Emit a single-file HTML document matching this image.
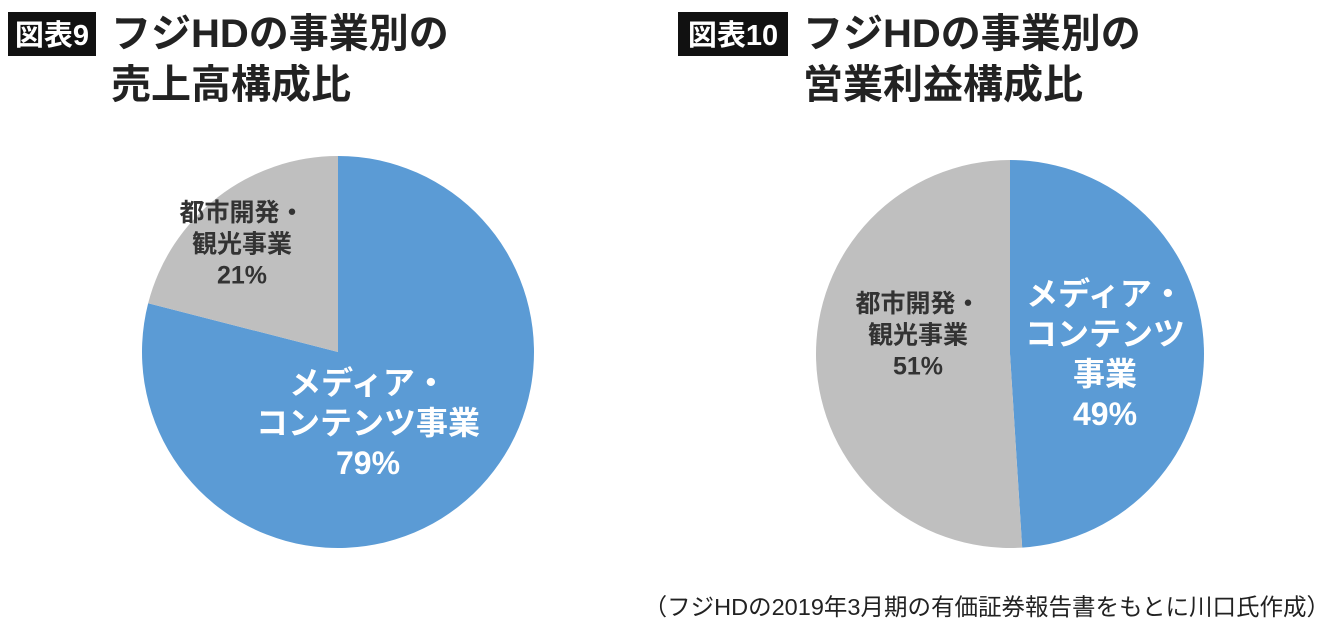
<!DOCTYPE html>
<html><head><meta charset="utf-8"><style>
body{margin:0;width:1340px;height:630px;background:#fff;overflow:hidden;font-family:"Liberation Sans","Noto Sans CJK JP",sans-serif}
svg{position:absolute;left:0;top:0}
</style></head><body>
<svg width="1340" height="630">
<g>
<rect x="8" y="12" width="88" height="44" fill="#111"/>
<text x="52" y="45" fill="#fff" font-size="29" font-weight="bold" text-anchor="middle" font-family="Liberation Sans,Noto Sans CJK JP,sans-serif">図表9</text>
<text x="111" y="47" font-size="40" font-weight="bold" fill="#222" font-family="Liberation Sans,Noto Sans CJK JP,sans-serif">フジHDの事業別の</text>
<text x="111" y="98" font-size="40" font-weight="bold" fill="#222" font-family="Liberation Sans,Noto Sans CJK JP,sans-serif">売上高構成比</text>
</g>
<g>
<rect x="678" y="12" width="110" height="44" fill="#111"/>
<text x="733" y="45" fill="#fff" font-size="29" font-weight="bold" text-anchor="middle" font-family="Liberation Sans,Noto Sans CJK JP,sans-serif">図表10</text>
<text x="803" y="47" font-size="40" font-weight="bold" fill="#222" font-family="Liberation Sans,Noto Sans CJK JP,sans-serif">フジHDの事業別の</text>
<text x="803" y="98" font-size="40" font-weight="bold" fill="#222" font-family="Liberation Sans,Noto Sans CJK JP,sans-serif">営業利益構成比</text>
</g>
<g id="pies"></g>
<text x="1330" y="615" font-size="23.5" fill="#222" text-anchor="end" font-family="Liberation Sans,Noto Sans CJK JP,sans-serif">（フジHDの2019年3月期の有価証券報告書をもとに川口氏作成）</text>
</svg>
<script>
const salesLabels=[["メディア・","コンテンツ事業"],["都市開発・","観光事業"]];
const salesValues=[79,21];
const profitLabels=[["メディア・","コンテンツ","事業"],["都市開発・","観光事業"]];
const profitValues=[49,51];
const colors=["#5b9bd5","#bfbfbf"];
const textColors=["#fff","#333"];
const NS="http://www.w3.org/2000/svg";
const g=document.getElementById('pies');
function pt(cx,cy,r,frac){const a=frac*2*Math.PI;return[cx+r*Math.sin(a),cy-r*Math.cos(a)];}
function drawPie(id,cx,cy,r,vals,labels,labelPos){
  const total=vals.reduce((a,b)=>a+b,0);let acc=0;
  vals.forEach((v,i)=>{
    const f0=acc/total,f1=(acc+v)/total;acc+=v;
    const [x0,y0]=pt(cx,cy,r,f0),[x1,y1]=pt(cx,cy,r,f1);
    const p=document.createElementNS(NS,'path');
    p.setAttribute('d',`M${cx},${cy}L${x0},${y0}A${r},${r} 0 ${(f1-f0)>0.5?1:0} 1 ${x1},${y1}Z`);
    p.setAttribute('fill',colors[i]);
    
    
    g.appendChild(p);
    const [lx,ly,fs]=labelPos[i];
    const lines=labels[i].concat([v+'%']);
    const t=document.createElementNS(NS,'text');
    t.setAttribute('text-anchor','middle');t.setAttribute('font-size',fs);t.setAttribute('font-weight','bold');
    t.setAttribute('fill',textColors[i]);t.setAttribute('font-family','Liberation Sans,Noto Sans CJK JP,sans-serif');
    
    
    lines.forEach((s,k)=>{const ts=document.createElementNS(NS,'tspan');ts.setAttribute('x',lx);ts.setAttribute('y',ly+k*fs*1.25);ts.textContent=s;t.appendChild(ts);});
    g.appendChild(t);
  });
}
drawPie('sales-pie',338,352,196,salesValues,salesLabels,[[368,394,32],[242,221,25]]);
drawPie('profit-pie',1010,354,194,profitValues,profitLabels,[[1105,305,32],[918,312,25]]);
</script>
</body></html>
